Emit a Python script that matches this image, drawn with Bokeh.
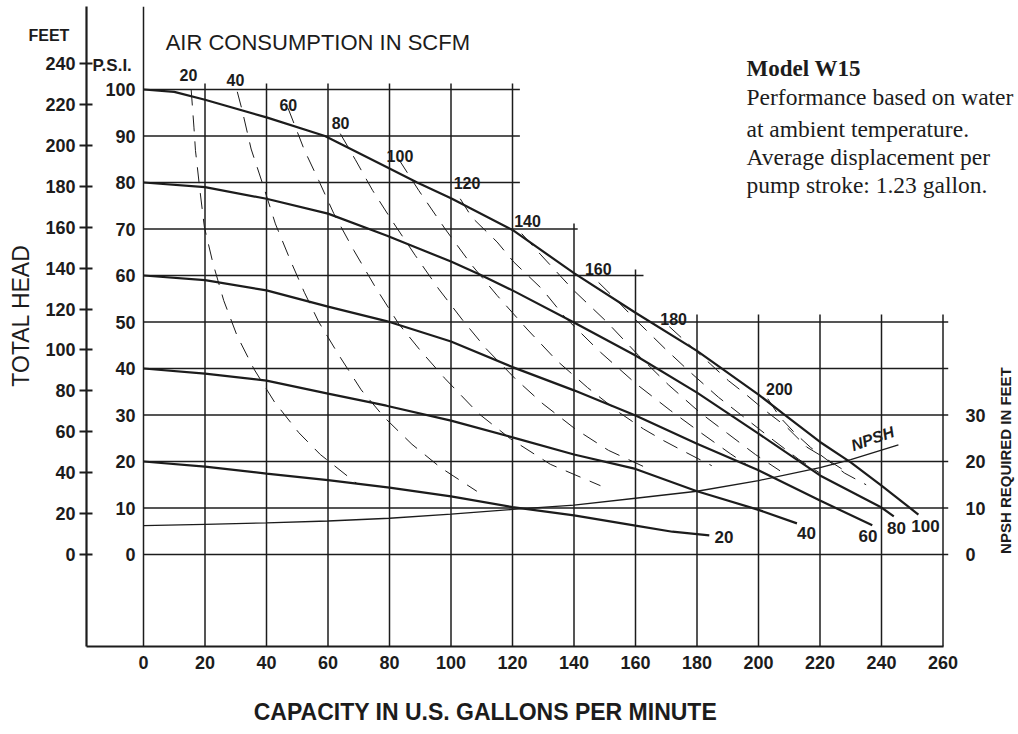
import math
from bokeh.plotting import figure
from bokeh.models import Range1d, LinearAxis, FixedTicker
from bokeh.core.properties import value
from bokeh.embed import file_html
from bokeh.resources import INLINE

BOLD = "Liberation Sans"
SANS = "Liberation Sans"
SERIF = "Liberation Serif"
INK = "#1c1c1c"

# ---------------- data ----------------
gpm_ticks = list(range(0, 261, 20))
psi_ticks = list(range(0, 101, 10))
feet_ticks = list(range(0, 241, 20))
npsh_label_ticks = [0, 10, 20, 30]

# discharge pressure curves (GPM, PSI)
psi100_gpm = [0, 10, 20, 40, 59, 80, 89, 100, 120, 140, 160, 180, 200, 208, 220, 230, 240, 252]
psi100_psi = [100, 99.5, 97.8, 94, 90, 83, 80, 76.6, 69.8, 60.5, 52, 43.8, 34.4, 30.3, 24.2, 19.8, 14.8, 8.6]
psi80_gpm = [0, 20, 40, 60, 79, 100, 109, 120, 140, 160, 180, 200, 220, 240, 244]
psi80_psi = [80, 79, 76.5, 73.3, 68.6, 63, 60.3, 56.8, 49.9, 42.8, 34.8, 26, 17, 10.1, 8.2]
psi60_gpm = [0, 20, 40, 60, 79, 100, 120, 140, 160, 180, 200, 220, 237]
psi60_psi = [60, 59, 56.8, 53.3, 50.2, 45.8, 40.3, 35.3, 29.9, 23.8, 18.1, 11.6, 6.3]
psi40_gpm = [0, 20, 40, 60, 79, 100, 120, 140, 160, 180, 200, 212.5]
psi40_psi = [40, 38.9, 37.4, 34.6, 32, 28.8, 25.2, 21.5, 18.4, 13.6, 9.6, 6.7]
psi20_gpm = [0, 20, 40, 60, 80, 100, 120, 140, 160, 172, 184]
psi20_psi = [20, 18.9, 17.4, 16, 14.4, 12.5, 10.2, 8.4, 6.2, 4.9, 4.1]
psi_curve_names = ["20", "40", "60", "80", "100"]
psi_curve_gpm = [psi20_gpm, psi40_gpm, psi60_gpm, psi80_gpm, psi100_gpm]
psi_curve_psi = [psi20_psi, psi40_psi, psi60_psi, psi80_psi, psi100_psi]
psi_label_gpm = [188.8, 215.6, 235.6, 244.9, 254.3]
psi_label_psi = [3.7, 4.7, 3.9, 5.6, 6.1]

# NPSH required (feet, plotted on the same scale)
npsh_gpm = [0, 20, 40, 60, 80, 100, 120, 140, 160, 180, 200, 220, 230, 245.5]
npsh_ft = [6.2, 6.5, 6.8, 7.2, 7.8, 8.7, 9.7, 10.6, 12.1, 13.6, 15.9, 18.7, 20.4, 23.6]

# air consumption (SCFM) curves
scfm_names = ["20", "40", "60", "80", "100", "120", "140", "160", "180", "200"]
scfm_gpm = [
    [15.5, 16.4, 16.9, 18.3, 19.8, 22.6, 26.1, 30.4, 35.9, 42.6, 50.5, 57.5, 69.5],
    [30.5, 32.1, 35, 39.1, 42.9, 47.8, 52.3, 57, 63.5, 70.8, 78.3, 87.3, 96.8, 108.4],
    [47, 52.3, 57, 61.9, 68.4, 75.4, 83, 90, 98.1, 109, 119.3, 132.3, 148.6],
    [64, 68.9, 74.5, 80.8, 88.4, 96, 103.9, 111.5, 120.9, 129.9, 140.4, 151.2, 165.3],
    [83, 89.5, 98.1, 106.8, 115, 124.7, 134.4, 144.4, 155, 162.6, 169.1, 175.1, 184.8],
    [103, 106.8, 115, 120.4, 129.6, 137.1, 148.6, 160.2, 171.3, 181, 190.8, 197.3],
    [123, 129, 139.9, 150.7, 161, 170.7, 181, 190, 199, 207],
    [148, 153.4, 160, 169.7, 177.8, 187, 196.7, 205, 213, 220],
    [171, 178.3, 184.3, 190.2, 195.6, 202.1, 209, 215.7, 222.2, 229.2],
    [203, 207, 212, 217, 222, 228, 235],
]
scfm_psi = [
    [100, 91.9, 86.9, 78.6, 70.4, 62.6, 54.6, 47.1, 39.9, 32.8, 26.2, 21.5, 15.2],
    [99.5, 95.5, 87.2, 79, 71.1, 63.2, 56.4, 50, 42.9, 35.4, 29.5, 23.7, 18.6, 13.6],
    [96, 87, 80.4, 73.3, 65.4, 57.5, 49.6, 43.9, 37.8, 30.3, 24.9, 19.4, 14.8],
    [90.5, 84.9, 78.3, 71.8, 64.3, 57.1, 50.3, 44.2, 37.8, 32.4, 27, 22.4, 18.1],
    [85, 78.3, 70, 62.2, 55.7, 48.5, 41.7, 35.9, 30.4, 27, 24.5, 22.4, 19.1],
    [76.5, 72.5, 67.2, 62.9, 57.1, 51, 43.5, 36.7, 31, 26.3, 21.7, 18.8],
    [69, 64.6, 56.8, 50, 42.8, 36.5, 30.5, 26, 21.5, 18],
    [58.5, 55, 50.5, 44.2, 39.2, 33.8, 28.8, 24.5, 20.5, 17.5],
    [49, 44.6, 41, 37.4, 34.6, 31, 27.5, 23.1, 20.5, 17.5],
    [33.5, 29.5, 26, 23, 20.5, 17.5, 15],
]
scfm_label_gpm = [14.6, 29.9, 47.1, 64.1, 83.4, 105.2, 124.9, 147.9, 172.4, 206.8]
scfm_label_psi = [103.2, 102.1, 96.7, 92.8, 85.7, 79.9, 71.8, 61.5, 50.7, 35.5]

info_title = "Model W15"
info_lines = ["Performance based on water", "at ambient temperature.",
              "Average displacement per", "pump stroke:  1.23 gallon."]

# ---------------- layout of the chart ----------------
W, H = 1016, 732
PX_X0, PX_PER_GPM = 143.0, 3.075     # canvas x of 0 GPM, pixels per GPM
PX_Y0, PX_PER_PSI = 554.0, 4.65      # canvas y of 0 PSI, pixels per PSI
X0, X1 = -PX_X0 / PX_PER_GPM, (W - PX_X0) / PX_PER_GPM
Y0, Y1 = (PX_Y0 - H) / PX_PER_PSI, PX_Y0 / PX_PER_PSI
FT_PER_PSI = 2.273
AX_X = -18.5                   # left (feet) axis position, GPM
AX_Y = -19.8                   # bottom axis position, PSI
TOP = 117.8                    # top of the axis lines, PSI
h_grid_end = [261.7] * 6 + [162.6, 141.2, 122.4, 122.4, 122.4]
v_grid_top = [TOP] + [101.3] * 6 + [71.2, 61.3] + [51.6] * 5

p = figure(width=W, height=H, output_backend="svg", toolbar_location=None,
           x_range=Range1d(X0, X1), y_range=Range1d(Y0, Y1),
           min_border_left=0, min_border_right=0, min_border_top=0,
           min_border_bottom=0, y_axis_location=None, title=None)
p.outline_line_color = None
p.grid.visible = False
p.background_fill_color = "white"
p.border_fill_color = "white"

# bottom axis (capacity)
xa = p.xaxis[0]
xa.fixed_location = AX_Y
xa.bounds = (AX_X, 260)
xa.ticker = FixedTicker(ticks=gpm_ticks, minor_ticks=[])
xa.major_tick_in = 0
xa.major_tick_out = 0
xa.minor_tick_in = 0
xa.minor_tick_out = 0
xa.axis_line_width = 2.2
xa.axis_line_color = INK
xa.major_label_standoff = 9
xa.major_label_text_font = BOLD
xa.major_label_text_font_style = "bold"
xa.major_label_text_font_size = "18px"
xa.major_label_text_color = INK

# left axis in feet
p.extra_y_ranges = {"feet": Range1d(Y0 * FT_PER_PSI, Y1 * FT_PER_PSI)}
fa = LinearAxis(y_range_name="feet", fixed_location=AX_X,
                bounds=(AX_Y * FT_PER_PSI, TOP * FT_PER_PSI),
                ticker=FixedTicker(ticks=feet_ticks, minor_ticks=[]))
fa.major_tick_in = 6
fa.major_tick_out = 7
fa.major_tick_line_width = 2
fa.major_tick_line_color = INK
fa.axis_line_width = 2.2
fa.axis_line_color = INK
fa.major_label_standoff = 4
fa.major_label_text_font = BOLD
fa.major_label_text_font_style = "bold"
fa.major_label_text_font_size = "18px"
fa.major_label_text_color = INK
p.add_layout(fa, "left")

# grid
p.segment(x0=[0] * len(psi_ticks), y0=psi_ticks, x1=h_grid_end, y1=psi_ticks,
          line_color=INK, line_width=1.6)
p.segment(x0=gpm_ticks, y0=[AX_Y] * len(gpm_ticks), x1=gpm_ticks, y1=v_grid_top,
          line_color=INK, line_width=1.5)

# air consumption dashed curves
p.multi_line(xs=scfm_gpm, ys=scfm_psi, line_color=INK, line_width=1.0, line_dash="16 10")

# pressure curves
for gx, gy in zip(psi_curve_gpm, psi_curve_psi):
    p.line(gx, gy, line_color=INK, line_width=2.2)

# NPSH curve
p.line(npsh_gpm, npsh_ft, line_color=INK, line_width=1.3)


def txt(x, y, text, font, size, style="normal", align="left", baseline="middle", angle=0.0):
    p.text(x=x, y=y, text=text, angle=angle, text_align=align, text_baseline=baseline,
           text_font=value(font), text_font_style=style, text_font_size=size,
           text_color=INK)


# psi tick labels (inside, left of the grid)
txt([-2.6] * len(psi_ticks), psi_ticks, [str(v) for v in psi_ticks], BOLD, "18px", "bold", "right")
# NPSH tick labels (right)
txt([267.3] * len(npsh_label_ticks), npsh_label_ticks, [str(v) for v in npsh_label_ticks],
    SANS, "18px", "bold", "left")
# SCFM labels
txt(scfm_label_gpm, scfm_label_psi, scfm_names, BOLD, "16px", "bold", "center")
# pressure curve end labels
txt(psi_label_gpm, psi_label_psi, psi_curve_names, BOLD, "17px", "bold", "center")
# NPSH curve label
txt([238.0], [23.2], ["NPSH"], SANS, "16px", "bold italic", "center", "bottom", 0.34)

# titles
txt([-16.6], [105.2], ["P.S.I."], BOLD, "17px", "bold")
txt([-37.4], [111.6], ["FEET"], BOLD, "16px", "bold")
txt([7.2], [110.1], ["AIR CONSUMPTION IN SCFM"], SANS, "22px")
txt([-40.0], [51.4], ["TOTAL HEAD"], SANS, "23px", "normal", "center", "middle", math.pi / 2)
txt([111.2], [-33.8], ["CAPACITY IN U.S. GALLONS PER MINUTE"], BOLD, "23px", "bold", "center")
txt([280.2], [20.2], ["NPSH REQUIRED IN FEET"], SANS, "15px", "bold", "center", "middle", math.pi / 2)

# model description block
txt([196.1], [104.5], [info_title], SERIF, "23px", "bold", "left", "alphabetic")
txt([196.1] * len(info_lines), [98.3, 91.6, 85.4, 79.4], info_lines, SERIF, "23.5px",
    "normal", "left", "alphabetic")

open("out.html", "w").write(file_html(p, INLINE))
